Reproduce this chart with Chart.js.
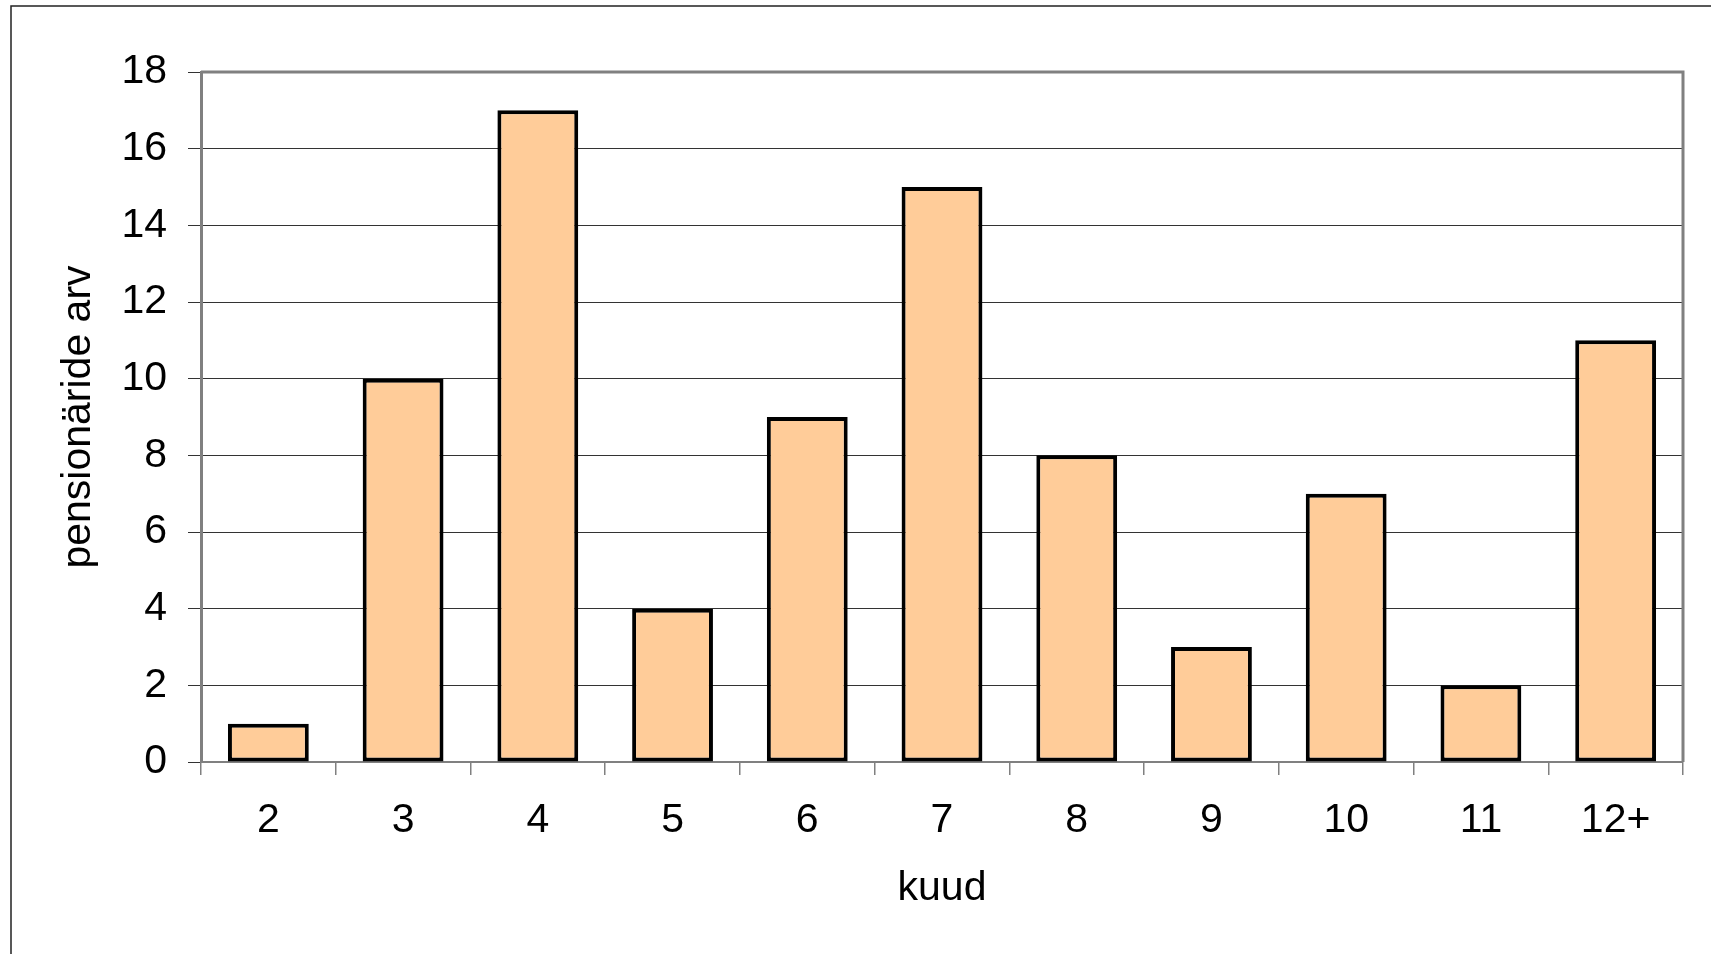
<!DOCTYPE html>
<html>
<head>
<meta charset="utf-8">
<script src="https://cdn.jsdelivr.net/npm/chart.js@4"></script>
<style>
  body { margin: 0; background: #fff; }
  #wrap { width: 1711px; height: 954px; }
</style>
</head>
<body>
<div id="wrap"><canvas id="chart" width="1711" height="954"></canvas></div>
<script>
// data
const months = ['2', '3', '4', '5', '6', '7', '8', '9', '10', '11', '12+'];
const pensioners = [1, 10, 17, 4, 9, 15, 8, 3, 7, 2, 11];
const yTicks = [0, 2, 4, 6, 8, 10, 12, 14, 16, 18];

const fontFamily = '"Liberation Sans", Arial, sans-serif';

// outer frame + top/right border of the plot area
const framePlugin = {
  id: 'frame',
  beforeDraw(chart) {
    const ctx = chart.ctx;
    ctx.save();
    ctx.fillStyle = '#fff';
    ctx.fillRect(0, 0, chart.width, chart.height);
    ctx.strokeStyle = '#222';
    ctx.lineWidth = 1.5;
    ctx.beginPath();
    ctx.moveTo(11, chart.height);
    ctx.lineTo(11, 6);
    ctx.lineTo(chart.width, 6);
    ctx.stroke();
    ctx.restore();
  },
  afterDatasetsDraw(chart) {
    const a = chart.chartArea;
    const ctx = chart.ctx;
    ctx.save();
    ctx.strokeStyle = '#808080';
    ctx.lineWidth = 3;
    ctx.beginPath();
    ctx.moveTo(a.left, a.top);
    ctx.lineTo(a.right, a.top);
    ctx.lineTo(a.right, a.bottom);
    ctx.stroke();
    ctx.restore();
  }
};

new Chart(document.getElementById('chart'), {
  type: 'bar',
  data: {
    labels: months,
    datasets: [{
      data: pensioners,
      backgroundColor: '#FFCC99',
      borderColor: '#000',
      borderWidth: 4,
      borderSkipped: false,
      barPercentage: 0.6,
      categoryPercentage: 1
    }]
  },
  options: {
    responsive: false,
    animation: false,
    layout: { padding: { top: 72, right: 28, left: 0, bottom: 0 } },
    plugins: { legend: { display: false }, tooltip: { enabled: false } },
    scales: {
      x: {
        grid: { drawOnChartArea: false, drawTicks: true, tickLength: 13, color: '#808080', lineWidth: 1.5 },
        border: { color: '#808080', width: 2 },
        ticks: { color: '#000', padding: 21, font: { family: fontFamily, size: 41 } },
        title: { display: true, text: 'kuud', color: '#000', font: { family: fontFamily, size: 41 }, padding: { top: 0, bottom: 41 } },
        afterFit(scale) { scale.height = 192; }
      },
      y: {
        min: 0,
        max: 18,
        afterBuildTicks(scale) { scale.ticks = yTicks.map(v => ({ value: v })); },
        grid: { color: '#333', lineWidth: 1, tickLength: 13 },
        border: { color: '#808080', width: 3 },
        ticks: { color: '#000', padding: 21, font: { family: fontFamily, size: 41 } },
        title: { display: true, text: 'pensionäride arv', color: '#000', font: { family: fontFamily, size: 41 }, padding: { top: 54, bottom: 0 } },
        afterFit(scale) { scale.width = 201; }
      }
    }
  },
  plugins: [framePlugin]
});
</script>
</body>
</html>
